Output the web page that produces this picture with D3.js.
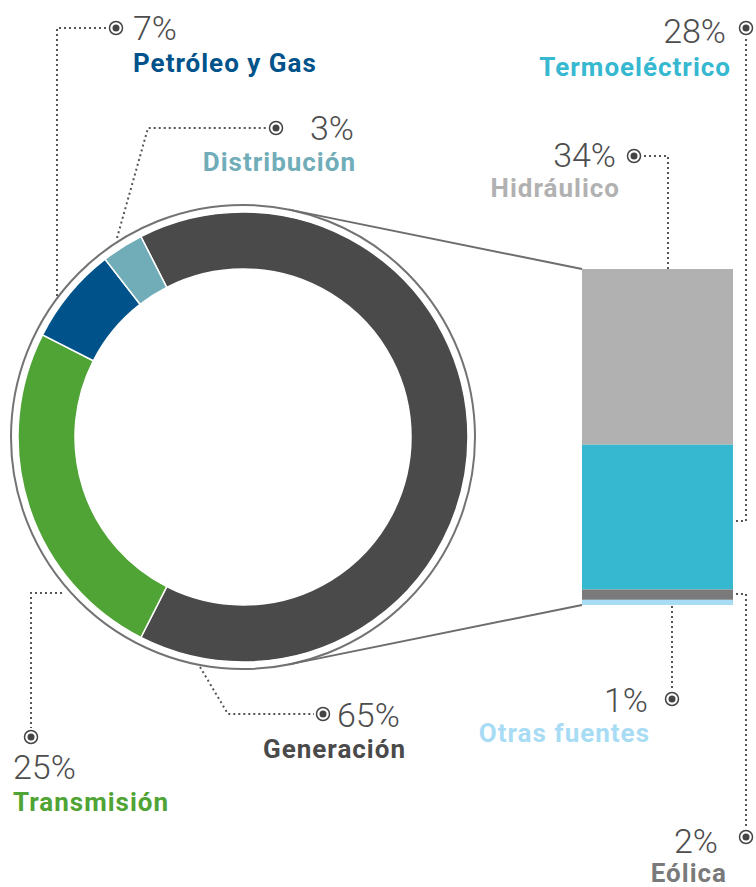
<!DOCTYPE html>
<html>
<head>
<meta charset="utf-8">
<script src="https://cdnjs.cloudflare.com/ajax/libs/d3/7.8.5/d3.min.js"></script>
<style>
  body { margin: 0; background: #fff; }
  svg { display: block; font-family: Roboto, "Noto Sans", sans-serif; }
</style>
</head>
<body>
<svg id="chart" width="756" height="887"></svg>
<script>
// sectors (donut)
var sectors = ["Generación", "Transmisión", "Petróleo y Gas", "Distribución"];
var sectorValues = [65, 25, 7, 3];
var sectorColors = ["#4a4a4a", "#50a335", "#00538a", "#70adb9"];

// generation sources (stacked bar, sums to the 65%)
var sources = ["Hidráulico", "Termoeléctrico", "Eólica", "Otras fuentes"];
var sourceValues = [34, 28, 2, 1];
var sourceColors = ["#b2b1b2", "#36b8d1", "#7a7a7a", "#a8dcf4"];

var svg = d3.select("#chart");

var cfg = {
  cx: 243, cy: 437,
  inner: 168, outer: 225, ring: 232,
  startDeg: -27,
  barX: 582, barW: 151, barTop: 269, barBottom: 605,
  pctSize: 34, labelSize: 26
};

var g = svg.append("g");

//Donut
var pie = d3.pie()
  .sort(null)
  .value(function(d){ return d.value; })
  .startAngle(cfg.startDeg * Math.PI / 180)
  .endAngle(cfg.startDeg * Math.PI / 180 + 2 * Math.PI);

var arc = d3.arc().innerRadius(cfg.inner).outerRadius(cfg.outer);

var sectorData = sectors.map(function(s, i){ return {label: s, value: sectorValues[i], color: sectorColors[i]}; });

g.append("g")
  .attr("transform", "translate(" + cfg.cx + "," + cfg.cy + ")")
  .selectAll("path")
  .data(pie(sectorData))
  .enter()
  .append("path")
  .attr("d", arc)
  .style("fill", function(d){ return d.data.color; })
  .style("stroke", "#fff")
  .style("stroke-width", "1.5px");

g.append("circle")
  .attr("cx", cfg.cx)
  .attr("cy", cfg.cy)
  .attr("r", cfg.ring)
  .style("fill", "none")
  .style("stroke", "#737373")
  .style("stroke-width", "2px");

//Stacked bar
var total = d3.sum(sourceValues);
var y = d3.scaleLinear().domain([0, total]).range([cfg.barTop, cfg.barBottom]);

var stackData = [];
var acc = 0;
sources.forEach(function(s, i){
  stackData.push({label: s, y0: acc, y1: acc + sourceValues[i], color: sourceColors[i]});
  acc += sourceValues[i];
});

g.selectAll(".seg")
  .data(stackData)
  .enter()
  .append("rect")
  .attr("class", "seg")
  .attr("x", cfg.barX)
  .attr("width", cfg.barW)
  .attr("y", function(d){ return y(d.y0); })
  .attr("height", function(d){ return y(d.y1) - y(d.y0); })
  .style("fill", function(d){ return d.color; });

// tangent lines from bar corners to the ring
function tangent(px, py, side) {
  var dx = px - cfg.cx, dy = py - cfg.cy;
  var d = Math.sqrt(dx*dx + dy*dy);
  var a = Math.atan2(dy, dx) + side * Math.acos(cfg.ring / d);
  return [cfg.cx + cfg.ring * Math.cos(a), cfg.cy + cfg.ring * Math.sin(a)];
}
[[cfg.barTop, -1], [cfg.barBottom, 1]].forEach(function(c){
  var t = tangent(cfg.barX, c[0], c[1]);
  g.append("line")
    .attr("x1", t[0]).attr("y1", t[1])
    .attr("x2", cfg.barX).attr("y2", c[0])
    .style("stroke", "#6d6d6d")
    .style("stroke-width", "2px");
});

//Annotations
var notes = {
  "Petróleo y Gas": {pct: [133, 40, "start"], lab: [133, 72, "start"], dot: [116, 28], path: [[57,296],[57,28],[107,28]]},
  "Distribución":   {pct: [354, 140, "end"], lab: [356, 171, "end"], dot: [276, 128], path: [[117,238],[148,128],[267,128]]},
  "Generación":     {pct: [337, 727, "start"], lab: [406, 758, "end"], dot: [323, 714], path: [[200,667],[228,714],[314,714]]},
  "Transmisión":    {pct: [13, 779, "start"], lab: [13, 811, "start"], dot: [31, 737], path: [[62,593],[31,593],[31,728]]},
  "Termoeléctrico": {pct: [726, 43, "end"], lab: [731, 76, "end"], dot: [746, 28], path: [[736,521],[746,521],[746,37]]},
  "Hidráulico":     {pct: [616, 167, "end"], lab: [620, 197, "end"], dot: [634, 156], path: [[668,269],[668,156],[643,156]]},
  "Otras fuentes":  {pct: [648, 712, "end"], lab: [650, 742, "end"], dot: [672, 699], path: [[672,606],[672,690]]},
  "Eólica":         {pct: [718, 853, "end"], lab: [727, 882, "end"], dot: [746, 837], path: [[736,594],[746,594],[746,828]]}
};

var all = sectorData.concat(sources.map(function(s, i){ return {label: s, value: sourceValues[i], color: sourceColors[i]}; }));

var line = d3.line();

all.forEach(function(d){
  var n = notes[d.label];

  g.append("path")
    .attr("d", line(n.path))
    .style("fill", "none")
    .style("stroke", "#555")
    .style("stroke-width", "2px")
    .style("stroke-dasharray", "2,3");

  g.append("circle")
    .attr("cx", n.dot[0]).attr("cy", n.dot[1]).attr("r", 6.5)
    .style("fill", "#fff")
    .style("stroke", "#444")
    .style("stroke-width", "1.5px");
  g.append("circle")
    .attr("cx", n.dot[0]).attr("cy", n.dot[1]).attr("r", 3.5)
    .style("fill", "#444");

  g.append("text")
    .attr("x", n.pct[0]).attr("y", n.pct[1])
    .attr("text-anchor", n.pct[2])
    .style("font-size", cfg.pctSize + "px")
    .style("font-weight", 300)
    .style("fill", "#4d4d4d")
    .text(d.value + "%");

  g.append("text")
    .attr("x", n.lab[0]).attr("y", n.lab[1])
    .attr("text-anchor", n.lab[2])
    .style("font-size", cfg.labelSize + "px")
    .style("font-weight", 700)
    .style("letter-spacing", "1px")
    .style("fill", d.color)
    .text(d.label);
});
</script>
</body>
</html>
